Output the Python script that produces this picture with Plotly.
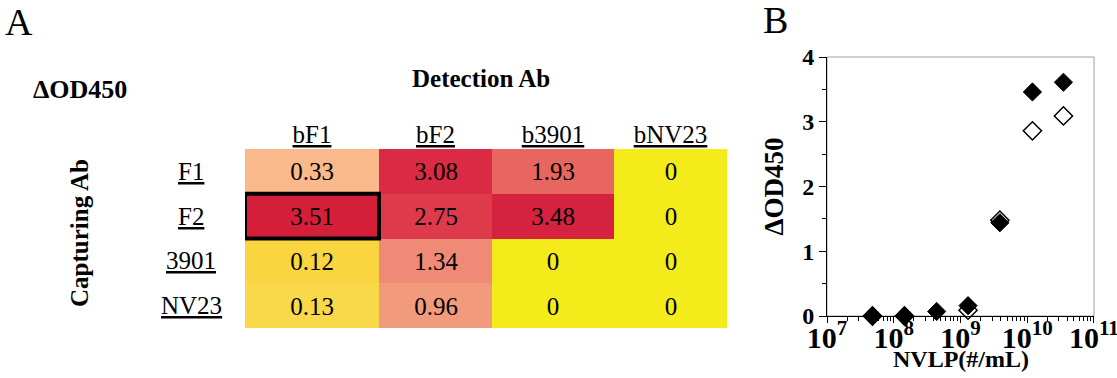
import plotly.graph_objects as go
import numpy as np

# ---------------- Data ----------------
detection_ab = ["bF1", "bF2", "b3901", "bNV23"]
capturing_ab = ["F1", "F2", "3901", "NV23"]
od_F1 = [0.33, 3.08, 1.93, 0]
od_F2 = [3.51, 2.75, 3.48, 0]
od_3901 = [0.12, 1.34, 0, 0]
od_NV23 = [0.13, 0.96, 0, 0]

nvlp = [4.8e7, 1.45e8, 4.4e8, 1.3e9, 3.9e9, 1.2e10, 3.5e10]
od_open = [0.0, 0.0, -0.04, 0.09, 1.48, 2.86, 3.09]
od_filled = [0.0, 0.0, 0.07, 0.16, 1.44, 3.46, 3.61]

# ---------------- Style ----------------
W, H = 1117, 378
SERIF = "Liberation Serif"
col_widths = [134, 113, 122, 113]  # relative column widths of the table
anchor_vals = [0, 0.12, 0.13, 0.33, 0.96, 1.34, 1.93, 2.75, 3.08, 3.48, 3.51]
anchor_cols = ["#F3EC1A", "#F9D53F", "#F9D84A", "#F9B98A", "#F19A7C", "#EE8A75",
               "#E76660", "#DD3A4B", "#DA2A44", "#D52240", "#D41E3A"]

def px_x(p):
    return p / W

def px_y(p):
    return 1 - p / H

z = np.array([od_F1, od_F2, od_3901, od_NV23], dtype=float)
zmax = z.max()
colorscale = [[v / zmax, c] for v, c in zip(anchor_vals, anchor_cols)]

edges = np.concatenate([[0], np.cumsum(col_widths)])
centers = (edges[:-1] + edges[1:]) / 2
rows = list(range(len(capturing_ab)))

fig = go.Figure()

fig.add_trace(go.Heatmap(
    z=z, x=edges, y=rows, colorscale=colorscale, zmin=0, zmax=zmax,
    showscale=False, texttemplate="%{z}",
    textfont=dict(family=SERIF, size=25, color="black"),
    xaxis="x", yaxis="y", hoverinfo="skip",
))

fig.add_trace(go.Scatter(
    x=nvlp, y=od_open, mode="markers", xaxis="x2", yaxis="y2",
    marker=dict(symbol="diamond", size=14, color="white",
                line=dict(color="black", width=1.5)),
    showlegend=False, cliponaxis=False,
))
fig.add_trace(go.Scatter(
    x=nvlp, y=od_filled, mode="markers", xaxis="x2", yaxis="y2",
    marker=dict(symbol="diamond", size=14, color="black",
                line=dict(color="black", width=1)),
    showlegend=False, cliponaxis=False,
))

# highlight max cell
ri, ci = np.unravel_index(np.argmax(z), z.shape)
shapes = [dict(type="rect", xref="x", yref="y",
               x0=edges[ci], x1=edges[ci + 1], y0=ri - 0.5, y1=ri + 0.5,
               line=dict(color="black", width=4))]
# frame of plot B (grey top/right)
shapes.append(dict(type="rect", xref="x2 domain", yref="y2 domain",
                   x0=0, x1=1, y0=0, y1=1, layer="below",
                   line=dict(color="#A0A0A0", width=1)))

ul = lambda s: f"<span style='text-decoration:underline'>{s}</span>"

annotations = []
for i, lab in enumerate(capturing_ab):
    annotations.append(dict(text=ul(lab), x=px_x(191), xref="paper", y=i, yref="y",
                            showarrow=False, xanchor="center", yanchor="middle",
                            font=dict(family=SERIF, size=25, color="black")))
annotations += [
    dict(text="A", x=px_x(3), y=px_y(-1), xref="paper", yref="paper", showarrow=False,
         xanchor="left", yanchor="top", font=dict(family=SERIF, size=38, color="black")),
    dict(text="B", x=px_x(761), y=px_y(-3), xref="paper", yref="paper", showarrow=False,
         xanchor="left", yanchor="top", font=dict(family=SERIF, size=38, color="black")),
    dict(text="<b>ΔOD450</b>", x=px_x(31), y=px_y(89), xref="paper", yref="paper",
         showarrow=False, xanchor="left", yanchor="middle",
         font=dict(family=SERIF, size=26, color="black")),
    dict(text="<b>Detection Ab</b>", x=px_x(481), y=px_y(79), xref="paper", yref="paper",
         showarrow=False, xanchor="center", yanchor="middle",
         font=dict(family=SERIF, size=25, color="black")),
    dict(text="<b>Capturing Ab</b>", x=px_x(79), y=px_y(233), xref="paper", yref="paper",
         showarrow=False, xanchor="center", yanchor="middle", textangle=-90,
         font=dict(family=SERIF, size=25, color="black")),
    dict(text="<b>NVLP(#/mL)</b>", x=0.5, xref="x2 domain", y=px_y(359), yref="paper",
         showarrow=False, xanchor="center", yanchor="middle",
         font=dict(family=SERIF, size=24, color="black")),
]

fig.update_layout(
    width=W, height=H, margin=dict(l=0, r=0, t=0, b=0, autoexpand=False),
    paper_bgcolor="white", plot_bgcolor="white",
    showlegend=False,
    xaxis=dict(domain=[px_x(245), px_x(727)], range=[edges[0], edges[-1]],
               side="top", tickmode="array", tickvals=centers, automargin=False,
               ticktext=[ul(c) for c in detection_ab], ticks="", showgrid=False,
               zeroline=False, showline=False, anchor="y",
               tickfont=dict(family=SERIF, size=25, color="black")),
    yaxis=dict(domain=[px_y(328), px_y(149)], range=[len(rows) - 0.5, -0.5],
               showticklabels=False, ticks="", showgrid=False, zeroline=False,
               showline=False, anchor="x", automargin=False),
    xaxis2=dict(domain=[px_x(827), px_x(1094)], type="log", range=[7, 11.002], dtick=1,
                exponentformat="power", showexponent="all", anchor="y2", automargin=False,
                ticks="outside", ticklen=6, tickcolor="black", showgrid=False,
                ticklabeloverflow="allow", ticklabelstandoff=-10,
                zeroline=False, showline=True, linecolor="black", linewidth=1,
                minor=dict(ticks="outside", ticklen=4, tickcolor="black", dtick="D1", showgrid=False),
                tickfont=dict(family=SERIF, size=24, color="black", weight="bold")),
    yaxis2=dict(domain=[px_y(316), px_y(57)], range=[0, 4], dtick=1, anchor="x2",
                automargin=False,
                ticks="outside", ticklen=7, tickcolor="black", showgrid=False,
                zeroline=False, showline=True, linecolor="black", linewidth=1,
                minor=dict(ticks="outside", ticklen=4, tickcolor="black", dtick=0.5, showgrid=False),
                tickfont=dict(family=SERIF, size=24, color="black", weight="bold"),
                title=dict(text="ΔOD450", standoff=10,
                           font=dict(family=SERIF, size=27, color="black", weight="bold"))),
    shapes=shapes, annotations=annotations,
)

fig.write_html(
    "out.html",
    config={"displayModeBar": False},
    post_script="document.body.style.margin='0';document.body.style.overflow='hidden';",
)
